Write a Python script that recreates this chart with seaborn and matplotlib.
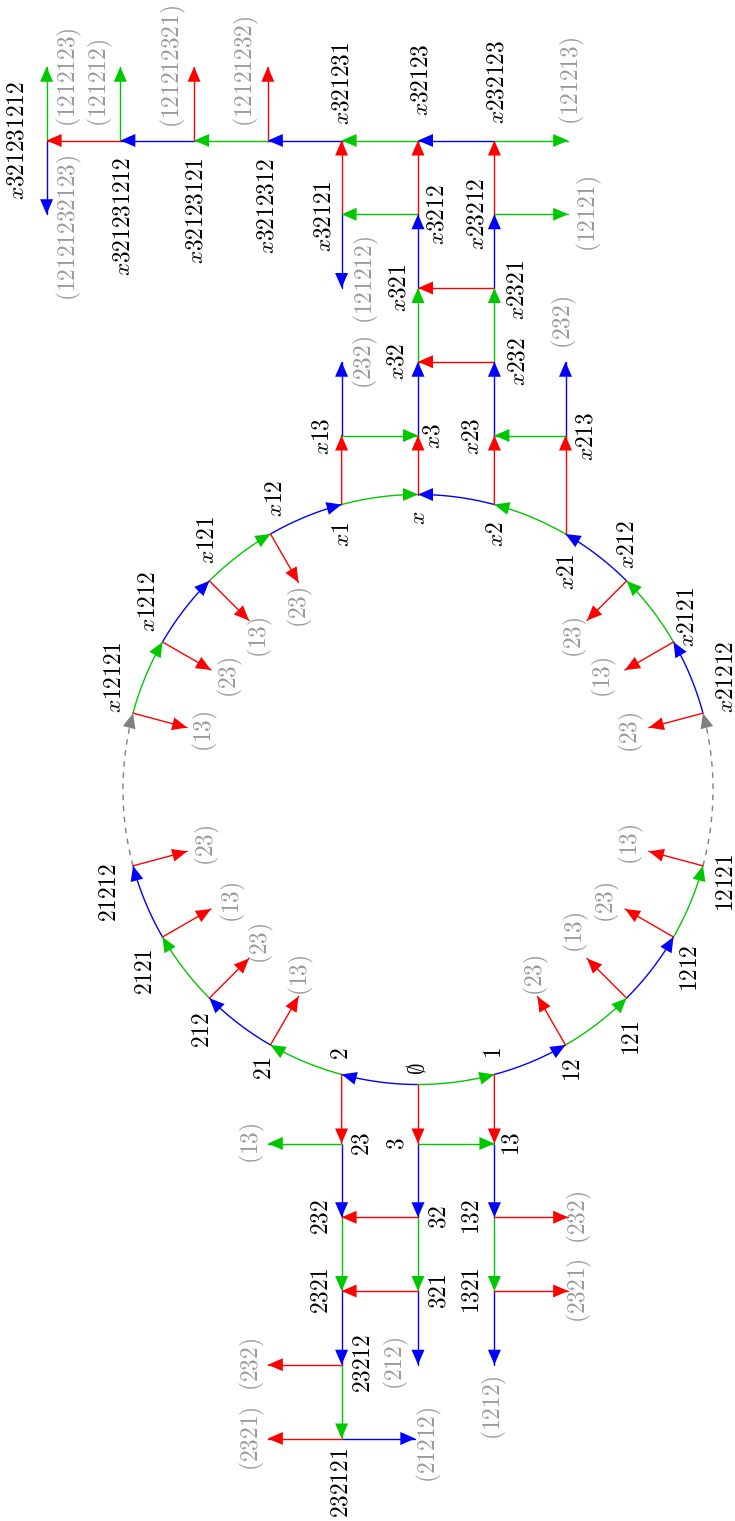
import numpy as np
import pandas as pd
import matplotlib
matplotlib.use("Agg")
import matplotlib.pyplot as plt
import seaborn as sns

sns.set_theme(style="white")
plt.rcParams["mathtext.fontset"] = "cm"
plt.rcParams["font.family"] = ["DejaVu Serif"]

# ---- data ---------------------------------------------------------------
# words on the circle, angle in degrees measured from the bottom node
circle_names = ["0", "1", "12", "121", "1212", "12121",
                "2", "21", "212", "2121", "21212",
                "x", "x1", "x12", "x121", "x1212", "x12121",
                "x2", "x21", "x212", "x2121", "x21212"]
circle_angles = [0, 15, 30, 45, 60, 75,
                 345, 330, 315, 300, 285,
                 180, 195, 210, 225, 240, 255,
                 165, 150, 135, 120, 105]

# words on the two grids, in circle-radius units (centre of circle = origin)
grid_names = ["x13", "x3", "x23", "x213", "x32", "x232", "x321", "x2321",
              "x3212", "x23212", "x32121", "x32123", "x232123", "x321231",
              "x3212312", "x32123121", "x321231212", "x321231212b",
              "23", "3", "13", "232", "32", "132", "2321", "321", "1321",
              "23212", "232121"]
grid_x = [-0.259, 0.0, 0.259, 0.5, 0.0, 0.259, 0.0, 0.259,
          0.0, 0.259, -0.259, 0.0, 0.259, -0.259,
          -0.509, -0.759, -1.009, -1.259,
          -0.259, 0.0, 0.259, -0.259, 0.0, 0.259, -0.259, 0.0, 0.259,
          -0.259, -0.259]
grid_y = [1.2, 1.2, 1.2, 1.2, 1.45, 1.45, 1.7, 1.7,
          1.95, 1.95, 1.95, 2.2, 2.2, 2.2,
          2.2, 2.2, 2.2, 2.2,
          -1.2, -1.2, -1.2, -1.45, -1.45, -1.45, -1.7, -1.7, -1.7,
          -1.95, -2.2]

# edges between words (source -> target)
edge_src = ["0", "1", "12", "121", "1212", "0", "2", "21", "212", "2121",
            "x1", "x12", "x121", "x1212", "x12121", "x2", "x21", "x212", "x2121", "x21212",
            "21212", "12121",
            "x", "x1", "x2", "x21", "x13", "x213", "x3", "x23", "x232", "x32",
            "x232", "x2321", "x321", "x2321", "x3212", "x3212", "x23212", "x232123",
            "x32123", "x32121", "x321231", "x3212312", "x32123121", "x321231212",
            "2", "0", "1", "3", "23", "3", "13", "32", "232", "32", "132",
            "321", "2321", "23212"]
edge_dst = ["1", "12", "121", "1212", "12121", "2", "21", "212", "2121", "21212",
            "x", "x1", "x12", "x121", "x1212", "x", "x2", "x21", "x212", "x2121",
            "x12121", "x21212",
            "x3", "x13", "x23", "x213", "x3", "x23", "x32", "x232", "x32", "x321",
            "x2321", "x321", "x3212", "x23212", "x32121", "x32123", "x232123", "x32123",
            "x321231", "x321231", "x3212312", "x32123121", "x321231212", "x321231212b",
            "23", "3", "13", "13", "232", "32", "132", "232", "2321", "321", "1321",
            "2321", "23212", "232121"]
edge_color = ["green", "blue", "green", "blue", "green", "blue", "green", "blue", "green", "blue",
              "green", "blue", "green", "blue", "green", "blue", "green", "blue", "green", "blue",
              "gray", "gray",
              "red", "red", "red", "red", "green", "green", "blue", "blue", "red", "green",
              "green", "red", "blue", "blue", "green", "red", "red", "blue",
              "green", "red", "blue", "green", "blue", "red",
              "red", "red", "red", "green", "blue", "blue", "blue", "red", "green", "green", "green",
              "red", "blue", "green"]

# dangling edges leaving the picture, with the word they lead to
stub_src = ["x13", "x213", "x32121", "x232123", "x23212", "x3212312", "x32123121",
            "x321231212", "x321231212b", "x321231212b",
            "23", "132", "1321", "321", "1321", "23212", "232121", "232121"]
stub_dir = ["up", "up", "down", "right", "right", "up", "up",
            "up", "up", "down",
            "left", "right", "right", "down", "down", "left", "left", "right"]
stub_color = ["blue", "blue", "blue", "green", "green", "red", "red",
              "green", "green", "blue",
              "green", "red", "red", "blue", "blue", "red", "red", "blue"]
stub_text = ["(232)", "(232)", "(121212)", "(121213)", "(12121)", "(12121232)", "(121212321)",
             "(121212)", "(1212123)", "(12121232123)",
             "(13)", "(232)", "(2321)", "(212)", "(1212)", "(232)", "(2321)", "(21212)"]

# red edges pointing to the centre of the circle
radial_src = ["12", "121", "1212", "12121", "21", "212", "2121", "21212",
              "x12", "x121", "x1212", "x12121", "x212", "x2121", "x21212"]
radial_text = ["(23)", "(13)", "(23)", "(13)", "(13)", "(23)", "(13)", "(23)",
               "(23)", "(13)", "(23)", "(13)", "(23)", "(13)", "(23)"]

# ---- layout --------------------------------------------------------------
PX = 295.0                 # pixels per radius unit
CX, CY = 418.0, 789.5      # circle centre in pixels
STUB_LEN = 0.25
RADIAL_LEN = 0.19
FS = 16.8

COLORS = {"red": "#ff0000", "green": "#00c800", "blue": "#0000ff", "gray": "#808080"}
TEXT_GRAY = "#9a9a9a"

# label offsets from their node / arrow tip, in pixels (x right, y down)
node_label_off = {
    "0": (-1, -16), "1": (1, -21), "12": (8, 25), "121": (6, 40), "1212": (18, 31), "12121": (24, 17),
    "2": (0, -21), "21": (-5, 23), "212": (-6, 32), "2121": (-17, 35), "21212": (-23, 27),
    "x": (1, 23), "x2": (3, 30), "x21": (3, 38), "x212": (1, -36), "x2121": (15, -25), "x21212": (24, -36),
    "x1": (1, 30), "x12": (5, -36), "x121": (-1, -41), "x1212": (-14, -40), "x12121": (-18, -36),
    "x13": (-19, 1), "x3": (15, 1), "x23": (-22, 1), "x213": (21, 1), "x32": (-20, 0), "x232": (24, 0),
    "x321": (-19, 0), "x2321": (23, 2), "x3212": (20, 0), "x23212": (-17, 0), "x32121": (-17, 2),
    "x32123": (4, -61), "x232123": (3, -59), "x321231": (1, -57), "x3212312": (0, 66),
    "x32123121": (2, 70), "x321231212": (3, 76), "x321231212b": (-29, 0),
    "23": (21, 0), "3": (-20, 0), "13": (18, 0), "232": (-20, 0), "32": (22, 0), "132": (-22, 0),
    "2321": (-20, 0), "321": (21, 0), "1321": (-22, 0), "23212": (22, -1), "232121": (0, 44),
}
stub_label_off = [(24, 1), (-1, -39), (25, -8), (4, -59), (21, 0), (-21, 5), (-21, 0),
                  (-20, 16), (23, 10), (23, 14),
                  (-15, 0), (11, 0), (11, 0), (-22, -1), (0, 43), (-15, 0), (-15, 0), (14, 6)]
radial_label_off = [(-1.5, -21.5), (-11, -26.5), (-17, -7), (-17, -7),
                    (2.5, -21.5), (12, -15.5), (22, -7), (20, -6),
                    (1.5, 24.5), (11, 16.5), (19, 7), (18, 4),
                    (-12, 16.5), (-20, 7), (-17, 5)]

DIRS = {"up": (0, 1), "down": (0, -1), "left": (-1, 0), "right": (1, 0)}


def px_off(p, off):
    return p[0] + off[0] / PX, p[1] - off[1] / PX


def label_text(name):
    if name == "0":
        return r"$\emptyset$"
    return "$" + name.rstrip("b") + "$"


def draw_head(ax, tip, d, color):
    d = np.asarray(d, float)
    d = d / np.hypot(*d)
    length, half = 15 / PX, 6.5 / PX
    base = np.asarray(tip) - d * length
    perp = np.array([-d[1], d[0]])
    pts = np.array([tip, base + perp * half, base - perp * half])
    ax.fill(pts[:, 0], pts[:, 1], color=color, lw=0, zorder=4)


def main():
    ang = dict(zip(circle_names, circle_angles))
    pos = {n: (np.sin(np.radians(a)), -np.cos(np.radians(a))) for n, a in ang.items()}
    pos.update({n: (x, y) for n, x, y in zip(grid_names, grid_x, grid_y)})

    fig = plt.figure(figsize=(7.35, 15.21), dpi=100)
    ax = fig.add_axes([0, 0, 1, 1])

    rows, heads = [], []
    seg = 0
    for s, d, c in zip(edge_src, edge_dst, edge_color):
        if s in ang and d in ang:
            diff = ((ang[d] - ang[s] + 180) % 360) - 180
            t = np.radians(np.linspace(ang[s], ang[s] + diff, 40))
            xs, ys = np.sin(t), -np.cos(t)
            te = t[-1]
            direc = np.sign(diff) * np.array([np.cos(te), np.sin(te)])
        else:
            xs = np.array([pos[s][0], pos[d][0]])
            ys = np.array([pos[s][1], pos[d][1]])
            direc = (xs[1] - xs[0], ys[1] - ys[0])
        for x, y in zip(xs, ys):
            rows.append((seg, c, x, y))
        heads.append(((xs[-1], ys[-1]), direc, c))
        seg += 1

    for s, dname, c, txt, off in zip(stub_src, stub_dir, stub_color, stub_text, stub_label_off):
        dv = np.array(DIRS[dname], float)
        p0 = np.array(pos[s])
        tip = p0 + dv * STUB_LEN
        rows += [(seg, c, p0[0], p0[1]), (seg, c, tip[0], tip[1])]
        heads.append((tuple(tip), dv, c))
        ax.text(*px_off(tip, off), f"${txt}$", rotation=90, ha="center", va="center",
                fontsize=FS, color=TEXT_GRAY)
        seg += 1

    for s, txt, off in zip(radial_src, radial_text, radial_label_off):
        p0 = np.array(pos[s])
        tip = p0 * (1 - RADIAL_LEN)
        rows += [(seg, "red", p0[0], p0[1]), (seg, "red", tip[0], tip[1])]
        heads.append((tuple(tip), -p0, "red"))
        ax.text(*px_off(tip, off), f"${txt}$", rotation=90, ha="center", va="center",
                fontsize=FS, color=TEXT_GRAY)
        seg += 1

    lines = pd.DataFrame(rows, columns=["seg", "color", "x", "y"])
    for c, grp in lines.groupby("color"):
        style = (0, (4, 4)) if c == "gray" else "-"
        sns.lineplot(data=grp, x="x", y="y", units="seg", estimator=None, sort=False,
                     color=COLORS[c], lw=1.0, linestyle=style, ax=ax, zorder=2)

    for tip, direc, c in heads:
        draw_head(ax, tip, direc, COLORS[c])

    for n, off in node_label_off.items():
        ax.text(*px_off(pos[n], off), label_text(n), rotation=90, ha="center", va="center",
                fontsize=FS, color="black")

    ax.set_xlim(-CX / PX, (735 - CX) / PX)
    ax.set_ylim((CY - 1521) / PX, CY / PX)
    ax.axis("off")
    fig.savefig("out.png", dpi=100)
    plt.close(fig)


if __name__ == "__main__":
    main()
